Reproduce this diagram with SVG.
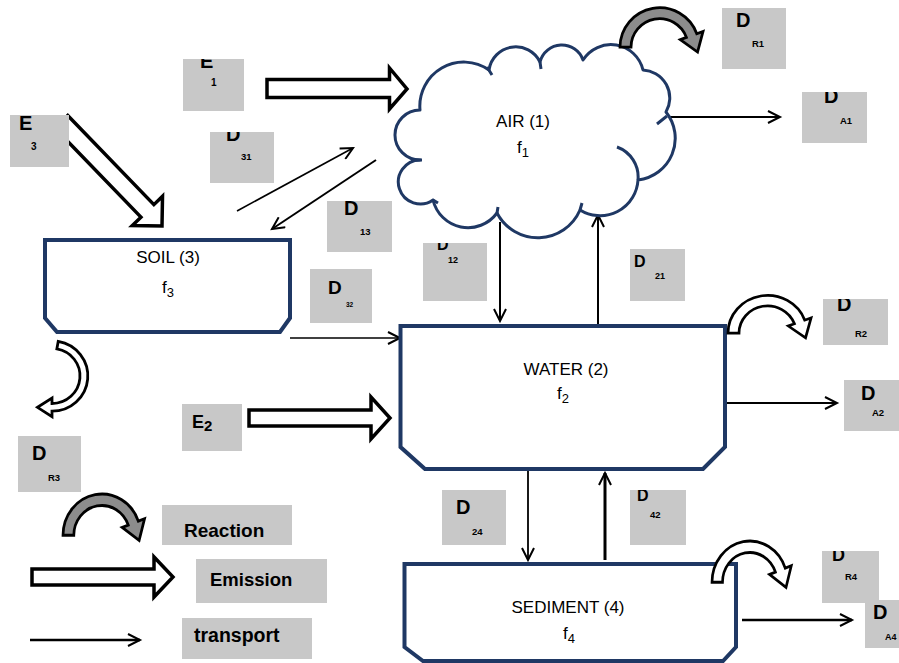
<svg xmlns="http://www.w3.org/2000/svg" width="899" height="663" viewBox="0 0 899 663">
<style>
.node{fill:#fff;stroke:#1f3864;stroke-width:4;stroke-linejoin:miter}
.cloud{fill:#fff;stroke:#1f3864;stroke-width:3;stroke-linejoin:round}
.tick{fill:none;stroke:#1f3864;stroke-width:3}
.nt{font-family:"Liberation Sans",Arial,sans-serif;font-size:17px;fill:#000;text-anchor:middle}
.lb{fill:#c8c8c8}
.lt{font-family:"Liberation Sans",Arial,sans-serif;font-weight:bold;fill:#000}
.big{font-size:20px}
.sub{font-size:9.5px}
.tr{fill:none;stroke:#000;stroke-width:2;marker-end:url(#v)}
.em{fill:#fff;stroke:#000;stroke-width:3.5;stroke-linejoin:miter}
.rx{stroke:#000;stroke-width:2.5;stroke-linejoin:miter}
.gray{fill:#8c8c8c}
.white{fill:#fff}
</style>
<defs>
<marker id="v" markerUnits="userSpaceOnUse" markerWidth="16" markerHeight="14" viewBox="0 0 16 14" refX="13" refY="7" orient="auto">
<path d="M1,1 L13,7 L1,13" fill="none" stroke="#000" stroke-width="2"/>
</marker>
<path id="rxn" d="M0,2 A36,36 0 0 1 69.8,-10.3 L75.5,-12.4 L70.5,6.4 L54.8,-4.8 L60.4,-6.9 A26,26 0 0 0 10,2 Z"/>
<clipPath id="cE1"><rect x="183" y="59" width="61" height="52"/></clipPath>
<clipPath id="cD31"><rect x="210" y="132" width="64" height="51"/></clipPath>
<clipPath id="cD12"><rect x="423" y="243" width="64" height="58"/></clipPath>
<clipPath id="cDA1"><rect x="802" y="92" width="65" height="51"/></clipPath>
<clipPath id="cDR2"><rect x="823" y="299" width="65" height="46"/></clipPath>
<clipPath id="cD42"><rect x="630" y="490" width="56" height="55"/></clipPath>
<clipPath id="cDR4"><rect x="822" y="551" width="57" height="52"/></clipPath>
</defs>
<rect width="899" height="663" fill="#fff"/>

<g id="emissions">
<polygon class="em" points="267,79.5 389.5,79.5 389.5,68 407,89 389.5,109 389.5,97.5 267,97.5"/>
<polygon class="em" points="249,410 371,410 371,397 390,418 371,439 371,426 249,426"/>
<polygon class="em" transform="translate(162,226) rotate(46)" points="-145,-9 -21,-9 -21,-21 0,0 -21,21 -21,9 -145,9"/>
</g>

<g id="connectors">
<path class="tr" d="M237,211 L353,148" style="stroke-width:1.6"/>
<path class="tr" d="M376,160 L272,229"/>
<path class="tr" d="M290,338 L400,338" style="stroke-width:1.6"/>
<path class="tr" d="M500,222 L500,321"/>
<path class="tr" d="M598,325 L598,215"/>
<path class="tr" d="M668,117 L780,117" style="stroke-width:1.8"/>
<path class="tr" d="M727,403 L837,403"/>
<path class="tr" d="M528,470 L528,560" style="stroke-width:1.8"/>
<path class="tr" d="M605,560 L605,473" style="stroke-width:3"/>
<path class="tr" d="M742,620 L852,620" style="stroke-width:2.5"/>
</g>

<g id="air">
<path class="cloud" d="M420,110 A44,44 0 0 1 489,70 A27,27 0 0 1 540,62 A22.5,22.5 0 0 1 583,60 A33,33 0 0 1 643,70 A28,28 0 0 1 666,112 A42,42 0 0 1 638,180 A38,38 0 0 1 580,210 A46,46 0 0 1 497,213 A36,36 0 0 1 433,200 A22,22 0 1 1 420,160 A25,25 0 1 1 420,110 Z"/>
<path class="tick" d="M617,147 A32,32 0 0 1 638,180 M667,116 L657,124 M487,67 L492,75 M540,62 L541,69 M433,200 L438,203 M411,160 L422,160 M580,210 L582,203 M497,213 L498,207"/>
<text class="nt" x="523" y="127">AIR (1)</text>
<text class="nt" x="523" y="153">f<tspan font-size="13" dy="4">1</tspan></text>
</g>

<g id="soil">
<path class="node" d="M45,240 H290 V318 L280,332 H57 L45,318 Z"/>
<text class="nt" x="168" y="263">SOIL (3)</text>
<text class="nt" x="168" y="293">f<tspan font-size="13" dy="4">3</tspan></text>
</g>

<g id="water">
<path class="node" d="M400.5,326 H725 V447 L703,469 H425 L400.5,447 Z"/>
<text class="nt" x="566" y="375">WATER (2)</text>
<text class="nt" x="563" y="399">f<tspan font-size="13" dy="4">2</tspan></text>
</g>

<g id="sediment">
<path class="node" d="M404.5,564 H736 V647 L723,661 H423 L404.5,647 Z"/>
<text class="nt" x="568" y="613">SEDIMENT (4)</text>
<text class="nt" x="569" y="639">f<tspan font-size="13" dy="4">4</tspan></text>
</g>

<g id="reactions">
<use href="#rxn" class="rx gray" transform="translate(620,45) scale(1.1,1.1)"/>
<use href="#rxn" class="rx white" transform="translate(728,331) scale(1.1,1.05)"/>
<use href="#rxn" class="rx white" transform="translate(712,580) scale(1.05,1.15)"/>
<path class="rx white" transform="translate(52,376) scale(1.12,1.1)" d="M5.56,-31.51 A32,32 0 0 1 0,32 L0,37 L-13,28.5 L0,20 L0,25 A25,25 0 0 0 4.34,-24.62 Z"/>
</g>

<g id="labels">
<rect class="lb" x="183" y="59" width="61" height="52"/>
<text class="lt big" x="200" y="68" clip-path="url(#cE1)">E</text>
<text class="lt" x="211" y="86" font-size="10">1</text>

<rect class="lb" x="10" y="115" width="59" height="52"/>
<text class="lt big" x="19" y="130">E</text>
<text class="lt" x="31" y="150" font-size="10">3</text>

<rect class="lb" x="210" y="132" width="64" height="51"/>
<text class="lt big" x="226" y="141" clip-path="url(#cD31)">D</text>
<text class="lt sub" x="241" y="160">31</text>

<rect class="lb" x="327" y="201" width="65" height="51"/>
<text class="lt big" x="344" y="215">D</text>
<text class="lt sub" x="360" y="235">13</text>

<rect class="lb" x="310" y="269" width="62" height="54"/>
<text class="lt" x="328" y="294" font-size="19">D</text>
<text class="lt" x="346" y="307" font-size="6.5">32</text>

<rect class="lb" x="423" y="243" width="64" height="58"/>
<text class="lt" x="437" y="250" font-size="16" clip-path="url(#cD12)">D</text>
<text class="lt" x="448" y="263" font-size="9">12</text>

<rect class="lb" x="630" y="249" width="55" height="52"/>
<text class="lt" x="634" y="267" font-size="16">D</text>
<text class="lt" x="655" y="279" font-size="9">21</text>

<rect class="lb" x="722" y="8" width="64" height="61"/>
<text class="lt big" x="736" y="27">D</text>
<text class="lt sub" x="752" y="47">R1</text>

<rect class="lb" x="802" y="92" width="65" height="51"/>
<text class="lt big" x="824" y="103" clip-path="url(#cDA1)">D</text>
<text class="lt sub" x="840" y="124">A1</text>

<rect class="lb" x="823" y="299" width="65" height="46"/>
<text class="lt big" x="837" y="311" clip-path="url(#cDR2)">D</text>
<text class="lt sub" x="855" y="337">R2</text>

<rect class="lb" x="844" y="380" width="55" height="51"/>
<text class="lt big" x="861" y="400">D</text>
<text class="lt sub" x="872" y="416">A2</text>

<rect class="lb" x="18" y="436" width="63" height="56"/>
<text class="lt big" x="32" y="460">D</text>
<text class="lt sub" x="48" y="481">R3</text>

<rect class="lb" x="182" y="404" width="60" height="47"/>
<text class="lt" x="192" y="428" font-size="18">E<tspan font-size="15" dy="3">2</tspan></text>

<rect class="lb" x="442" y="490" width="64" height="55"/>
<text class="lt big" x="456" y="514">D</text>
<text class="lt sub" x="472" y="535">24</text>

<rect class="lb" x="630" y="490" width="56" height="55"/>
<text class="lt" x="637" y="501" font-size="16" clip-path="url(#cD42)">D</text>
<text class="lt sub" x="650" y="518">42</text>

<rect class="lb" x="822" y="551" width="57" height="52"/>
<text class="lt" x="832" y="561" font-size="18" clip-path="url(#cDR4)">D</text>
<text class="lt sub" x="845" y="580">R4</text>

<rect class="lb" x="865" y="600" width="34" height="48"/>
<text class="lt big" x="873" y="619">D</text>
<text class="lt" x="885" y="640" font-size="9">A4</text>
</g>

<g id="legend">
<use href="#rxn" class="rx gray" transform="translate(63,533) scale(1.08,1.15)"/>
<polygon class="em" points="32,569 154,569 154,557 173,577 154,597 154,585 32,585"/>
<path class="tr" d="M30,640 L140,640" style="stroke-width:2.5"/>
<rect class="lb" x="162" y="505" width="130" height="40"/>
<text class="lt" x="184" y="537" font-size="19">Reaction</text>
<rect class="lb" x="196" y="559" width="131" height="44"/>
<text class="lt" x="210" y="586" font-size="18.5">Emission</text>
<rect class="lb" x="182" y="618" width="130" height="41"/>
<text class="lt" x="194" y="642" font-size="19.5">transport</text>
</g>
</svg>
